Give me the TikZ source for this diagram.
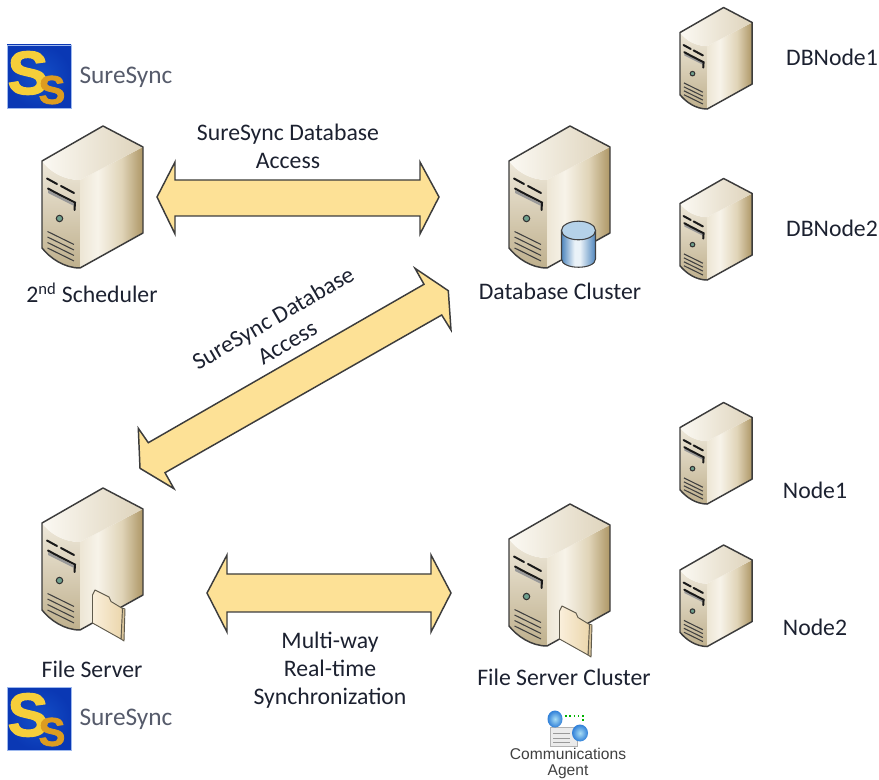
\documentclass[tikz,border=0pt]{standalone}
\usepackage{fontspec}
\setmainfont{Carlito}
\newfontfamily\agentfont{Liberation Sans}
\newfontfamily\logofont[FakeBold=2]{Liberation Sans Bold}
\usetikzlibrary{calc,fadings}
\definecolor{inkc}{HTML}{1C2130}
\definecolor{logoc}{HTML}{565B6B}
\definecolor{arrowfill}{HTML}{FDE196}
\definecolor{edgec}{HTML}{3C3C3C}
\definecolor{srvA}{HTML}{EDE6D5}
\definecolor{srvB}{HTML}{F7F3E9}
\definecolor{srvC}{HTML}{E0D4B8}
\definecolor{srvD}{HTML}{AD9665}
\definecolor{srvTopA}{HTML}{FBF9F3}
\definecolor{srvTopB}{HTML}{DED3BB}
\definecolor{srvLeftA}{HTML}{EEE8DA}
\definecolor{srvLeftB}{HTML}{BFB08D}
\definecolor{cylA}{HTML}{4F86BD}
\definecolor{cylB}{HTML}{EAF2F8}
\definecolor{cylTop}{HTML}{B5D2E9}
\definecolor{foldA}{HTML}{FAEFDB}
\definecolor{foldB}{HTML}{EBD6AC}
\definecolor{foldD}{HTML}{D9C49A}
\definecolor{foldE}{HTML}{5F5A4C}
\definecolor{btn}{HTML}{6FA08E}
\definecolor{logoIn}{HTML}{1450C8}
\definecolor{logoOut}{HTML}{0A38B4}
\definecolor{logoEdge}{HTML}{9DB8EE}
\definecolor{logoBig}{HTML}{F6CE3A}
\definecolor{logoSmall}{HTML}{DD9C20}
\definecolor{globeA}{HTML}{A8DDF5}
\definecolor{globeB}{HTML}{2F7FD8}
\pgfdeclarehorizontalshading{srvright}{100bp}{
  color(0bp)=(srvA); color(25bp)=(srvA); color(39bp)=(srvB);
  color(58bp)=(srvC); color(75bp)=(srvD); color(100bp)=(srvD)}
\pgfdeclarehorizontalshading{cylside}{100bp}{
  color(0bp)=(cylA); color(25bp)=(cylA); color(44bp)=(cylB); color(52bp)=(cylB);
  color(75bp)=(cylA); color(100bp)=(cylA)}
\tikzset{
  txt/.style={inner sep=0pt,text=inkc,font=\fontsize{17.8}{21}\selectfont,align=center},
  logotxt/.style={inner sep=0pt,text=logoc,font=\fontsize{19}{21}\selectfont},
  agenttxt/.style={inner sep=0pt,text=black!75,font=\agentfont\fontsize{11.7}{12}\selectfont,align=center},
  blockarrow/.style={draw=edgec,fill=arrowfill,line width=1.1pt,line join=miter,miter limit=6},
  server/.pic={
    \path[top color=srvLeftA,bottom color=srvLeftB]
      (0,35) .. controls (8,46) and (22,54) .. (38,54) -- (38,142)
      .. controls (22,142) and (8,132) .. (0,122) -- cycle;
    \path[shading=srvright] (38,54) -- (101,21) -- (101,107) -- (38,142) -- cycle;
    \path[left color=srvTopA,right color=srvTopB]
      (0,35) -- (61,0) -- (101,21) -- (38,54) .. controls (22,54) and (8,46) .. (0,35) -- cycle;
    \draw[edgec,line width=1.1pt,line join=round]
      (0,35) -- (61,0) -- (101,21) -- (101,107) -- (38,142)
      .. controls (22,142) and (8,132) .. (0,122) -- cycle;
    \draw[black!90,line width=1.5pt,line cap=round] (5,52.5) -- (15,58);
    \draw[black!90,line width=1.5pt,line cap=round] (19,60) -- (32,67);
    \path[fill=black!40] (6,64) -- (33,78) -- (33,85) -- (32,80) -- (6,67) -- cycle;
    \draw[black!90,line width=1.5pt,line cap=round] (6,62.5) .. controls (14,67) and (24,72) .. (33,76.5) -- (32.5,84);
    \draw[black!80,fill=btn,line width=.8pt] (17.5,92.5) circle (3.2);
    \foreach \vy in {105.5,111,116.5,122}
      \draw[black!75,line width=.8pt] (5.5,\vy) -- (32,\vy+13);
  },
  folderpic/.pic={
    \draw[fill=foldD,draw=foldE,line width=.7pt,line join=round]
      (83,121) -- (82,153) -- (79,151) -- (80,120) -- cycle;
    \draw[left color=foldA,right color=foldB,draw=foldE,line width=.7pt,line join=round]
      (50.5,107) -- (53,102) -- (67,109) -- (69,113.5) -- (80.5,120.5) -- (79,151) -- (50.5,135) -- cycle;
  },
  cylpic/.pic={
    \draw[shading=cylside,draw=black!75,line width=.8pt]
      (52.5,104.5) -- (52.5,133) .. controls (52.5,144) and (86.5,144) .. (86.5,133) -- (86.5,104.5) -- cycle;
    \draw[fill=cylTop,draw=black!75,line width=.8pt]
      (69.5,104.5) ellipse (17 and 9.3);
  },
  sslogo/.pic={
    \draw[draw=logoEdge,line width=.5pt,inner color=logoIn,outer color=logoOut]
      (0,0) rectangle (64,63);
    \node[inner sep=0pt,text=logoBig,font=\logofont\fontsize{46}{46}\selectfont] (-big) at (21,28) {S};
    \node[inner sep=0pt,text=logoSmall,font=\logofont\fontsize{30}{30}\selectfont] (-small) at (45,45) {S};
  }
}
\begin{document}
\begin{tikzpicture}[x=.75pt,y=-.75pt]
\useasboundingbox (0,0) rectangle (879,780);

\pic (logoA) at (7,45) {sslogo};
\pic (logoB) at (7,687) {sslogo};
\node[logotxt] (logoAtxt) at (126,77) {SureSync};
\node[logotxt] (logoBtxt) at (126,719) {SureSync};

\draw[blockarrow] (157,197) -- (175,162) -- (175,180) -- (420,180) -- (420,162) -- (439,197)
  -- (420,234) -- (420,216) -- (175,216) -- (175,234) -- cycle;
\draw[blockarrow] (415,268.3) -- (448.3,290.7) -- (451,330) -- (441.7,315) -- (165,472.7)
  -- (174,488.7) -- (140,468.3) -- (138.3,428.3) -- (148.3,442.7) -- (424,284.3) -- cycle;
\draw[blockarrow] (207,593) -- (227,555) -- (227,574) -- (431,574) -- (431,555) -- (451,593)
  -- (431,632) -- (431,612) -- (227,612) -- (227,632) -- cycle;

\pic (sched) at (42,126) {server};
\pic (dbc) at (509,126) {server};
\pic at (509,126) {cylpic};
\pic (fs) at (42,488) {server};
\pic at (42,488) {folderpic};
\pic (fsc) at (509,504) {server};
\pic at (509,504) {folderpic};
\pic[scale=.715] (db1) at (680,7.5) {server};
\pic[scale=.715] (db2) at (680,178.5) {server};
\pic[scale=.715] (n1) at (680,402.5) {server};
\pic[scale=.715] (n2) at (680,545) {server};

\node[txt] (l1) at (288,146.5) {SureSync Database\\Access};
\node[txt,rotate=30] (l2) at (280,330) {SureSync Database\\Access};
\node[txt] (l3) at (330,670) {Multi-way\\Real-time\\Synchronization};
\node[txt] (lsched) at (92,293) {2\textsuperscript{nd} Scheduler};
\node[txt] (ldbc) at (560,291) {Database Cluster};
\node[txt] (lfs) at (92,669) {File Server};
\node[txt] (lfsc) at (564,677) {File Server Cluster};
\node[txt] (ldb1) at (832,57) {DBNode1};
\node[txt] (ldb2) at (832,228) {DBNode2};
\node[txt] (ln1) at (815,490) {Node1};
\node[txt] (ln2) at (815,627) {Node2};

\draw[black!30,fill=black!8,line width=.5pt] (550,727) rectangle (577,746);
\foreach \ly in {733,738,742}
  \draw[black!40,line width=.6pt] (553,\ly) -- (570,\ly);
\draw[green!70!black,line width=1.2pt,dotted] (565,716) -- (583,716) -- (583,722);
\shade[inner color=globeA,outer color=globeB] (555,719) ellipse (7.5 and 8.5);
\shade[inner color=globeA,outer color=globeB] (580,733) ellipse (8 and 8.5);
\node[agenttxt] (agent) at (568,763) {Communications\\Agent};
\end{tikzpicture}
\end{document}
